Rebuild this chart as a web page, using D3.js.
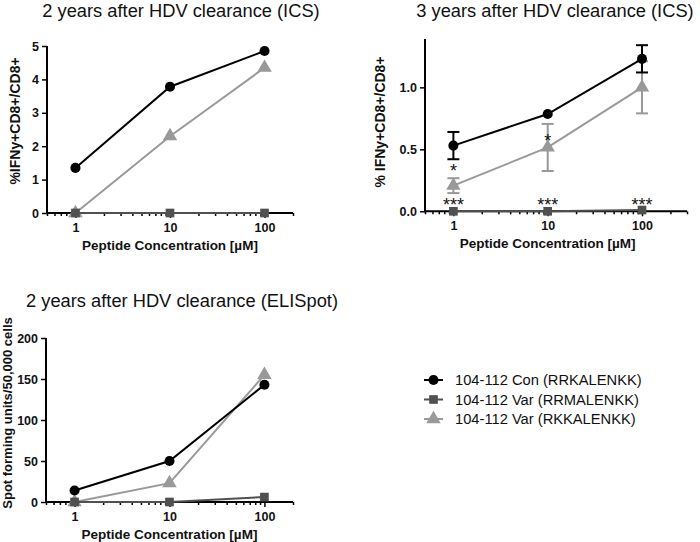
<!DOCTYPE html>
<html><head><meta charset="utf-8">
<script src="https://cdn.jsdelivr.net/npm/d3@7"></script>
<style>body{margin:0;background:#fff}svg{display:block}</style>
</head><body>
<svg id="c" width="700" height="542"></svg>
<script>
const concentrations = [1, 10, 100];
const seriesNames = ["104-112 Con (RRKALENKK)", "104-112 Var (RRMALENKK)", "104-112 Var (RKKALENKK)"];
// Panel A: 2 years ICS
const icsY2_con = [1.35, 3.78, 4.85];
const icsY2_varM = [0, 0, 0];
const icsY2_varK = [0, 2.3, 4.35];
// Panel B: 3 years ICS (mean, error)
const icsY3_con = [0.53, 0.785, 1.23];
const icsY3_conErr = [0.11, 0, 0.11];
const icsY3_varM = [0, 0, 0.01];
const icsY3_varMErr = [0, 0, 0];
const icsY3_varK = [0.207, 0.515, 1.0];
const icsY3_varKErr = [0.06, 0.19, 0.21];
// significance markers and the value level they sit at
const icsY3_starsK = ["*", "*", ""];
const icsY3_starsKLevel = [0.36, 0.60, 0];
const icsY3_starsM = ["***", "***", "***"];
const icsY3_starsMLevel = [0.08, 0.08, 0.08];
// Panel C: 2 years ELISpot
const eli_con = [14, 50, 143];
const eli_varM = [0, 0, 6];
const eli_varK = [0, 23, 155];

const colors = ["#000000", "#505050", "#999999"];
const shapes = [d3.symbolCircle, d3.symbolSquare, d3.symbolTriangle];
const sizes = [80, 75, 90];

const svg = d3.select("#c");
const FONT = "Liberation Sans, Arial, sans-serif";

function panel(o) {
  const g = svg.append("g");
  const x = d3.scaleLog().domain(o.xDomain).range([o.x0, o.x1]);
  const y = d3.scaleLinear().domain(o.yDomain).range([o.y0, o.y1]);
  g.append("text").attr("x", o.titleX).attr("y", o.titleY).attr("text-anchor", "middle")
    .attr("font-family", FONT).attr("font-size", 18.3).attr("fill", "#111").text(o.title);
  // x axis
  const minors = [];
  for (let e = -1; e <= 2; e++) for (let k = 1; k <= 9; k++) {
    const v = k * Math.pow(10, e);
    if (v >= o.xDomain[0] - 1e-9 && v <= o.xDomain[1] + 1e-9 && k !== 1) minors.push(v);
  }
  const xa = g.append("g").attr("transform", `translate(0,${o.y0})`);
  xa.call(d3.axisBottom(x).tickValues(minors).tickSize(3).tickFormat(""))
    .call(s => s.select(".domain").remove());
  xa.append("g").call(d3.axisBottom(x).tickValues(concentrations).tickSize(5).tickPadding(5).tickFormat(d3.format("d")))
    .call(s => s.select(".domain").remove());
  xa.append("line").attr("x1", o.x0).attr("x2", o.x1).attr("stroke", "#000").attr("stroke-width", 2);
  xa.selectAll("line").attr("stroke", "#000").attr("stroke-width", 1.5);
  xa.selectAll(":scope > line").attr("stroke-width", 2);
  xa.selectAll("text").attr("font-family", FONT).attr("font-size", 12.5).attr("font-weight", "bold").attr("fill", "#111");
  // y axis
  const ya = g.append("g").attr("transform", `translate(${o.x0},0)`);
  ya.call(d3.axisLeft(y).tickValues(o.yTicks).tickSize(5).tickPadding(3).tickFormat(o.yFmt))
    .call(s => s.select(".domain").remove());
  ya.append("line").attr("y1", o.y0).attr("y2", o.y1).attr("stroke", "#000").attr("stroke-width", 2);
  ya.selectAll(".tick line").attr("stroke", "#000").attr("stroke-width", 1.5);
  ya.selectAll("text").attr("font-family", FONT).attr("font-size", 12.5).attr("font-weight", "bold").attr("fill", "#111");
  // titles
  g.append("text").attr("x", (x(1) + x(100)) / 2).attr("y", o.y0 + 37).attr("text-anchor", "middle")
    .attr("font-family", FONT).attr("font-size", 13.5).attr("font-weight", "bold").attr("fill", "#111")
    .text("Peptide Concentration [\u00b5M]");
  g.append("text").attr("transform", `translate(${o.yLabX},${o.yLabY}) rotate(-90)`).attr("text-anchor", "middle")
    .attr("font-family", FONT).attr("font-size", o.yLabSize).attr("font-weight", "bold").attr("fill", "#111")
    .text(o.yLabel);
  // series drawn in order: varK, varM, con
  const line = d3.line().x((d, i) => x(concentrations[i])).y(d => y(d));
  [2, 1, 0].forEach(si => {
    const vals = o.series[si];
    const errs = o.errors ? o.errors[si] : null;
    if (errs) {
      vals.forEach((v, i) => {
        if (!errs[i]) return;
        const cx = x(concentrations[i]);
        const eg = g.append("g").attr("stroke", colors[si]).attr("stroke-width", 2);
        eg.append("line").attr("x1", cx).attr("x2", cx).attr("y1", y(v - errs[i])).attr("y2", y(v + errs[i]));
        [v - errs[i], v + errs[i]].forEach(e => eg.append("line").attr("x1", cx - 6).attr("x2", cx + 6).attr("y1", y(e)).attr("y2", y(e)));
      });
    }
    g.append("path").attr("d", line(vals)).attr("fill", "none").attr("stroke", colors[si]).attr("stroke-width", 2);
    vals.forEach((v, i) => {
      g.append("path").attr("d", d3.symbol(shapes[si], sizes[si])())
        .attr("transform", `translate(${x(concentrations[i])},${y(v)})`).attr("fill", colors[si]);
    });
  });
  if (o.stars) {
    o.stars.forEach(st => {
      st.labels.forEach((t, i) => {
        if (!t) return;
        g.append("text").attr("x", x(concentrations[i])).attr("y", y(st.levels[i]) + 10)
          .attr("text-anchor", "middle").attr("font-family", FONT).attr("font-size", 18).attr("fill", "#111").text(t);
      });
    });
  }
}

panel({
  title: "2 years after HDV clearance (ICS)", titleX: 181, titleY: 17,
  xDomain: [0.5, 200], x0: 47, x1: 293, yDomain: [0, 5], y0: 213, y1: 46,
  yTicks: [0, 1, 2, 3, 4, 5], yFmt: d3.format("d"),
  yLabel: "%IFNy+CD8+/CD8+", yLabX: 20, yLabY: 121, yLabSize: 14,
  series: [icsY2_con, icsY2_varM, icsY2_varK]
});
panel({
  title: "3 years after HDV clearance (ICS)", titleX: 555, titleY: 17,
  xDomain: [0.5, 300], x0: 425, x1: 687, yDomain: [0, 1.39], y0: 211.3, y1: 39,
  yTicks: [0, 0.5, 1.0], yFmt: d3.format(".1f"),
  yLabel: "% IFNy+CD8+/CD8+", yLabX: 385, yLabY: 122, yLabSize: 14,
  series: [icsY3_con, icsY3_varM, icsY3_varK],
  errors: [icsY3_conErr, icsY3_varMErr, icsY3_varKErr],
  stars: [
    {labels: icsY3_starsK, levels: icsY3_starsKLevel},
    {labels: icsY3_starsM, levels: icsY3_starsMLevel}
  ]
});
panel({
  title: "2 years after HDV clearance (ELISpot)", titleX: 182, titleY: 307,
  xDomain: [0.5, 200], x0: 46, x1: 293, yDomain: [0, 200], y0: 502, y1: 338,
  yTicks: [0, 50, 100, 150, 200], yFmt: d3.format("d"),
  yLabel: "Spot forming units/50,000 cells", yLabX: 12, yLabY: 413, yLabSize: 13,
  series: [eli_con, eli_varM, eli_varK]
});

// legend
const lg = svg.append("g");
seriesNames.forEach((n, i) => {
  const yy = 380 + i * 19.5;
  lg.append("line").attr("x1", 424).attr("x2", 443).attr("y1", yy).attr("y2", yy).attr("stroke", colors[i]).attr("stroke-width", 2);
  lg.append("path").attr("d", d3.symbol(shapes[i], sizes[i])()).attr("transform", `translate(433.5,${yy})`).attr("fill", colors[i]);
  lg.append("text").attr("x", 455).attr("y", yy + 5).attr("font-family", FONT).attr("font-size", 14.7).attr("fill", "#111").text(n);
});
</script>
</body></html>
